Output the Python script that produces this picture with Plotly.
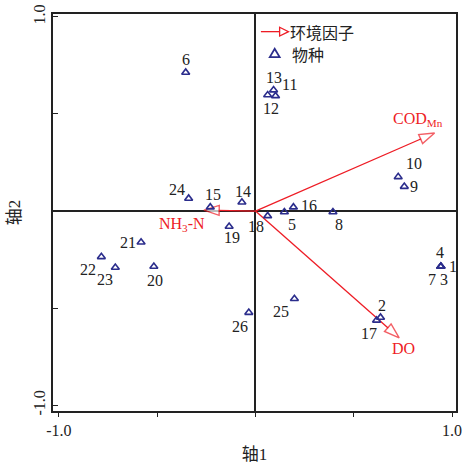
import plotly.graph_objects as go

# ---- data ----
species = [str(i) for i in range(1, 27)]
axis1 = [0.943, 0.636, 0.943, 0.943, 0.147, -0.355, 0.943, 0.394, 0.757, 0.726,
         0.102, 0.062, 0.092, -0.069, -0.230, 0.193, 0.616, 0.062, -0.134, -0.517,
         -0.582, -0.784, -0.713, -0.340, 0.198, -0.034]
axis2 = [-0.286, -0.548, -0.286, -0.286, -0.005, 0.714, -0.286, -0.005, 0.126, 0.176,
         0.593, 0.598, 0.623, 0.045, 0.020, 0.020, -0.563, -0.025, -0.080, -0.286,
         -0.161, -0.236, -0.291, 0.065, -0.452, -0.523]

env_names = ["COD<sub>Mn</sub>", "NH<sub>3</sub>-N", "DO"]
env_axis1 = [0.911, -0.262, 0.731]
env_axis2 = [0.402, 0.005, -0.653]

# ---- styles ----
RED = "#ee1c25"
NAVY = "#2b2d8c"
TXT = "#222222"
SERIF = "Liberation Serif, Times New Roman, serif"
CJK = "Liberation Serif, Noto Sans CJK SC, serif"

# label offsets (pixels) for species labels
lab_off = {
    "1": (12, 0), "2": (1, 12), "3": (3, -13), "4": (-1, 14), "5": (8, -12),
    "6": (0, 13), "7": (-9, -13), "8": (6, -12), "9": (10, 0), "10": (16, 13),
    "11": (14, 11), "12": (3, -14), "13": (0, 13), "14": (1, 11), "15": (3, 13),
    "16": (16, 2), "17": (-8, -13), "18": (-12, -11), "19": (3, -11), "20": (1, -14),
    "21": (-13, 0), "22": (-13, -13), "23": (-10, -12), "24": (-12, 9), "25": (-13, -13),
    "26": (-9, -14),
}
env_off = {"COD<sub>Mn</sub>": (-17, 14), "NH<sub>3</sub>-N": (-22, -14), "DO": (4, -11)}

L, R, T, B = 53, 5, 12, 49
W, H = 467, 466
PW, PH = W - L - R, H - T - B


def px(x):
    return (x - L) / PW


def py(y):
    return (H - B - y) / PH


fig = go.Figure()

# environmental factor arrows
for name, ex, ey in zip(env_names, env_axis1, env_axis2):
    fig.add_trace(go.Scatter(
        x=[0, ex], y=[0, ey], mode="lines+markers",
        line=dict(color=RED, width=1.3),
        marker=dict(symbol=["circle", "arrow"], size=[0, 16], angleref="previous",
                    color="white", line=dict(color=RED, width=1.4)),
        showlegend=False, hoverinfo="skip"))

# species
fig.add_trace(go.Scatter(
    x=axis1, y=axis2, mode="markers",
    marker=dict(symbol="triangle-up-open", size=7, color=NAVY, line=dict(width=1.6, color=NAVY)),
    showlegend=False))

ann = []
for s, x, y in zip(species, axis1, axis2):
    dx, dy = lab_off[s]
    ann.append(dict(x=x, y=y, text=s, showarrow=False, xshift=dx, yshift=dy,
                    font=dict(family=SERIF, size=16, color=TXT)))
for name, ex, ey in zip(env_names, env_axis1, env_axis2):
    dx, dy = env_off[name]
    ann.append(dict(x=ex, y=ey, text=name, showarrow=False, xshift=dx, yshift=dy,
                    font=dict(family=SERIF, size=16, color=RED)))

# legend (manual)
ann.append(dict(xref="paper", yref="paper", x=px(292), y=py(30), xanchor="left", yanchor="middle",
                text="环境因子", showarrow=False, font=dict(family="Noto Sans CJK SC", size=16, color=TXT)))
ann.append(dict(xref="paper", yref="paper", x=px(294), y=py(53), xanchor="left", yanchor="middle",
                text="物种", showarrow=False, font=dict(family="Noto Sans CJK SC", size=16, color=TXT)))

shapes = [
    dict(type="line", xref="paper", yref="paper", x0=px(264), x1=px(283), y0=py(30), y1=py(30),
         line=dict(color=RED, width=1.3)),
    dict(type="path", xref="paper", yref="paper",
         path=f"M{px(283)},{py(25.5)} L{px(292)},{py(30)} L{px(283)},{py(34.5)} Z",
         line=dict(color=RED, width=1.3), fillcolor="white"),
    dict(type="path", xref="paper", yref="paper",
         path=f"M{px(273)},{py(56)} L{px(278)},{py(47.5)} L{px(283)},{py(56)} Z",
         line=dict(color=NAVY, width=1.8), fillcolor="white"),
]

fig.update_layout(
    width=W, height=H, margin=dict(l=L, r=R, t=T, b=B),
    paper_bgcolor="white", plot_bgcolor="white",
    annotations=ann, shapes=shapes, showlegend=False,
    xaxis=dict(range=[-1.03, 1.02], tickvals=[-1, -0.5, 0, 0.5, 1],
               ticktext=["-1.0", "", "", "", "1.0"], ticks="outside", ticklen=4,
               tickcolor=TXT, showgrid=False, zeroline=True, zerolinecolor=TXT, zerolinewidth=1.5,
               showline=True, mirror=True, linecolor=TXT, linewidth=1.5,
               tickfont=dict(family=SERIF, size=16, color=TXT),
               title=dict(text="轴1", font=dict(family=CJK, size=17, color=TXT), standoff=10)),
    yaxis=dict(range=[-1.03, 1.015], tickvals=[-1, -0.5, 0, 0.5, 1],
               ticktext=["-1.0", "", "", "", "1.0"], ticks="inside", ticklen=5,
               tickcolor=TXT, showgrid=False, zeroline=True, zerolinecolor=TXT, zerolinewidth=1.5,
               showline=True, mirror=True, linecolor=TXT, linewidth=1.5, tickangle=-90,
               tickfont=dict(family=SERIF, size=16, color=TXT),
               title=dict(text="轴2", font=dict(family=CJK, size=17, color=TXT), standoff=6)),
)

fig.write_html("out.html")
